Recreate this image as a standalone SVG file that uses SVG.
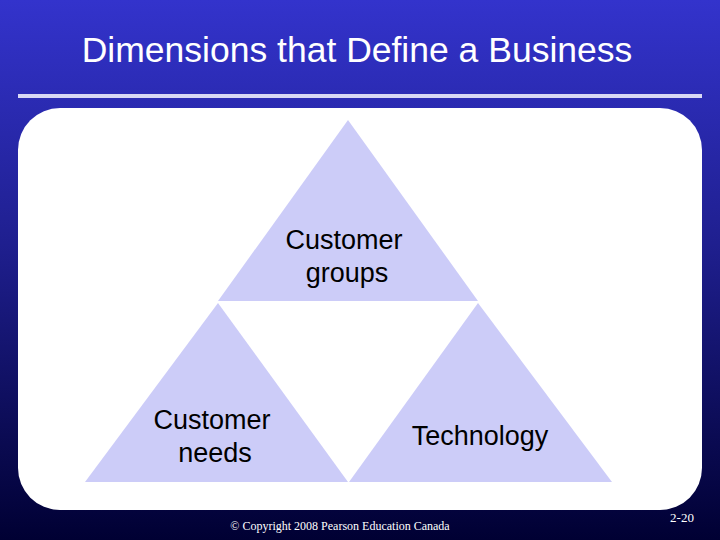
<svg xmlns="http://www.w3.org/2000/svg" width="720" height="540" viewBox="0 0 720 540">
<defs>
<linearGradient id="bg" x1="0" y1="0" x2="0" y2="1">
<stop offset="0" stop-color="#3333cc"/>
<stop offset="0.45" stop-color="#1f1f8f"/>
<stop offset="1" stop-color="#000033"/>
</linearGradient>
<style>
.tri{fill:#ccccf8}
.lbl{font-family:"Liberation Sans",Arial,sans-serif;font-size:27px;fill:#000;text-anchor:middle}
</style>
</defs>
<rect width="720" height="540" fill="url(#bg)"/>
<text x="357" y="62" font-family="Liberation Sans,Arial,sans-serif" font-size="35.5" fill="#fff" text-anchor="middle">Dimensions that Define a Business</text>
<rect x="18" y="94" width="684" height="4" fill="#d8d8f4"/>
<rect x="18" y="108" width="684" height="402" rx="42" fill="#fff"/>
<g id="top"><polygon class="tri" points="348,120 478,301 218,301"/>
<text class="lbl" x="344" y="249">Customer</text><text class="lbl" x="347" y="282">groups</text></g>
<g id="left"><polygon class="tri" points="218,303 348,482 85,482"/>
<text class="lbl" x="212" y="429">Customer</text><text class="lbl" x="215" y="462">needs</text></g>
<g id="right"><polygon class="tri" points="478,303 612,482 349,482"/>
<text class="lbl" x="480" y="445">Technology</text></g>
<g id="connectors"/>
<text x="340" y="530" font-family="Liberation Serif,serif" font-size="12" fill="#fff" text-anchor="middle">© Copyright 2008 Pearson Education Canada</text>
<text x="682" y="522" font-family="Liberation Serif,serif" font-size="13" fill="#fff" text-anchor="middle">2-20</text>
</svg>
